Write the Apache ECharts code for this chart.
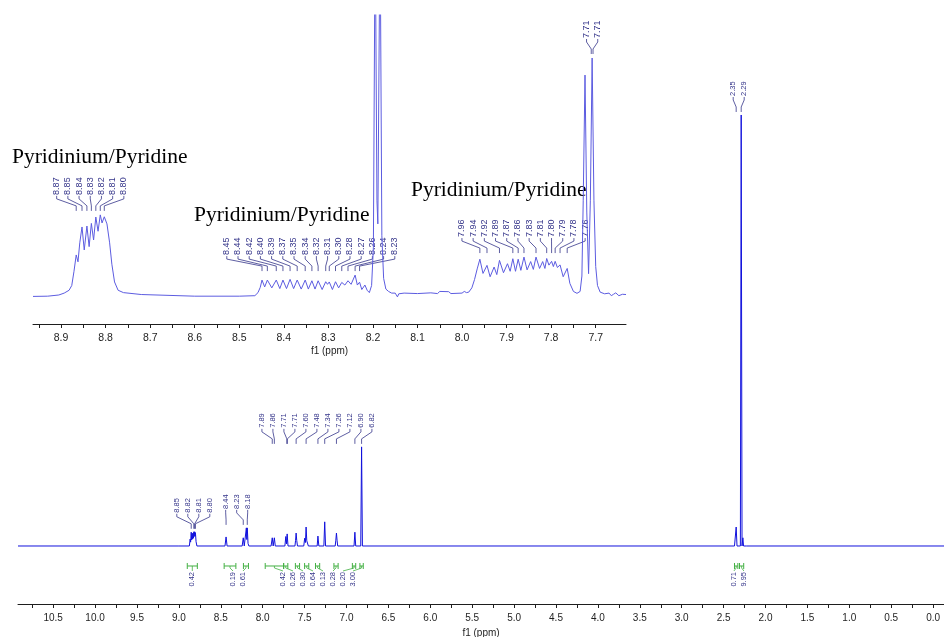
<!DOCTYPE html>
<html>
<head>
<meta charset="utf-8">
<script src="https://cdn.jsdelivr.net/npm/echarts@6/dist/echarts.min.js"></script>
<style>
  html, body { margin: 0; padding: 0; background: #fff; }
  #chart { width: 944px; height: 637px; }
</style>
</head>
<body>
<div id="chart"></div>
<script>
// ---------------- spectrum data (ppm, relative intensity) ----------------
// Full 1H spectrum, tallest line (2.29 ppm) = 100
const mainSpectrum = [
  [10.92, 0], [9.0, 0],
  [8.875, 0], [8.866, 1.6], [8.860, 0.9], [8.853, 3.2], [8.848, 1.4], [8.842, 2.9], [8.837, 1.6],
  [8.832, 3.0], [8.827, 1.8], [8.822, 3.3], [8.817, 2.2], [8.812, 3.3], [8.807, 2.3], [8.803, 3.1],
  [8.795, 1.0], [8.785, 0],
  [8.450, 0], [8.437, 2.1], [8.425, 0],
  [8.245, 0], [8.232, 1.9], [8.220, 0],
  [8.205, 0], [8.195, 4.2], [8.190, 1.5], [8.184, 4.2], [8.175, 0.6], [8.165, 0],
  [7.900, 0], [7.886, 1.9], [7.875, 0], [7.861, 1.9], [7.850, 0],
  [7.735, 0], [7.724, 2.2], [7.716, 0.5], [7.708, 2.8], [7.698, 0],
  [7.615, 0], [7.608, 1.3], [7.601, 3.0], [7.594, 1.3], [7.585, 0],
  [7.510, 0], [7.499, 1.8], [7.490, 0.8], [7.482, 4.4], [7.474, 1.2], [7.465, 1.6], [7.455, 0],
  [7.350, 0], [7.341, 2.3], [7.330, 0],
  [7.270, 0], [7.260, 5.6], [7.250, 0],
  [7.135, 0], [7.128, 1.2], [7.120, 3.0], [7.112, 1.2], [7.105, 0],
  [6.910, 0], [6.900, 3.2], [6.890, 0],
  [6.830, 0], [6.820, 23.0], [6.810, 0],
  [2.400, 0], [2.385, 0.3], [2.370, 0],
  [2.360, 0], [2.350, 4.4], [2.340, 0], [2.325, 0.3],
  [2.300, 0], [2.290, 100], [2.280, 0], [2.270, 1.9], [2.262, 0], [2.240, 0.3], [2.230, 0],
  [-0.13, 0]
];

// Expanded aromatic region 8.96 - 7.63 ppm, line at 7.71 ppm = 100
const insetSpectrum = [
  [8.963, -0.6], [8.930, -0.5], [8.905, 0], [8.893, 0.8], [8.882, 2.0], [8.876, 4.0], [8.871, 10.0],
  [8.866, 16.9], [8.862, 14.0], [8.858, 22.0], [8.853, 28.7], [8.848, 19.0], [8.842, 29.1], [8.837, 20.4],
  [8.832, 30.2], [8.827, 23.2], [8.822, 32.9], [8.817, 26.9], [8.812, 33.8], [8.808, 30.4], [8.803, 33.0],
  [8.797, 30.0], [8.791, 22.0], [8.786, 13.0], [8.780, 5.5], [8.772, 2.0], [8.760, 1.0], [8.720, 0.2],
  [8.600, -0.5], [8.500, -0.5], [8.465, -0.3],
  [8.458, 1.0], [8.453, 3.2], [8.449, 6.3], [8.443, 3.4], [8.437, 6.3], [8.427, 3.0], [8.417, 6.3],
  [8.409, 2.7], [8.402, 6.3], [8.394, 2.7], [8.386, 6.6], [8.378, 2.7], [8.370, 6.3], [8.361, 2.5],
  [8.352, 6.3], [8.345, 2.5], [8.337, 6.0], [8.330, 2.5], [8.323, 6.0], [8.314, 2.3], [8.306, 5.6],
  [8.302, 4.5], [8.298, 5.5], [8.291, 2.3], [8.284, 5.6], [8.277, 3.0], [8.270, 5.3], [8.263, 4.2],
  [8.256, 6.0], [8.249, 4.5], [8.240, 8.4], [8.235, 4.2], [8.230, 5.4], [8.225, 2.3], [8.218, 4.2],
  [8.213, 2.0], [8.208, 1.0], [8.203, 4.0], [8.199, 20], [8.195, 160], [8.191, 40], [8.189, 30],
  [8.184, 160], [8.180, 25], [8.176, 7], [8.171, 2.5], [8.165, 1.5], [8.158, 0.8], [8.150, 0.8],
  [8.145, -0.8], [8.142, 0.5], [8.130, 0.8], [8.100, 0.6], [8.070, 0.9], [8.055, 0.6], [8.050, 1.5],
  [8.030, 1.4], [8.025, 0.6], [8.000, 0.8], [7.995, 1.5], [7.990, 1.0], [7.985, 1.2],
  [7.978, 3.0], [7.972, 6.5], [7.966, 11.0], [7.960, 15.1], [7.953, 9.1], [7.944, 12.5], [7.937, 7.7],
  [7.928, 11.8], [7.922, 8.6], [7.916, 14.6], [7.907, 9.4], [7.898, 13.2], [7.892, 10.0], [7.886, 15.3],
  [7.880, 10.0], [7.874, 15.1], [7.868, 10.4], [7.861, 16.0], [7.854, 10.6], [7.846, 14.1], [7.840, 10.8],
  [7.834, 16.0], [7.826, 11.2], [7.819, 14.1], [7.814, 11.2], [7.810, 15.4], [7.805, 12.6], [7.799, 14.2],
  [7.795, 12.0], [7.791, 14.2], [7.786, 11.6], [7.780, 12.7], [7.773, 7.7], [7.764, 11.2], [7.758, 4.9],
  [7.750, 1.5], [7.742, 0.7], [7.735, 1.5], [7.731, 8], [7.728, 40], [7.724, 92.8], [7.720, 35],
  [7.716, 9], [7.712, 40], [7.708, 100], [7.704, 40], [7.700, 12], [7.696, 4], [7.690, 1.2],
  [7.680, 0.5], [7.670, 0.8], [7.665, -0.3], [7.660, 0.3], [7.655, 0.9], [7.648, -0.3], [7.640, 0.3],
  [7.632, 0.2]
];

// ---------------- peak picks (ppm), one array per multiplet ----------------
const mainPeaksA = [8.853, 8.822, 8.812, 8.803];
const mainPeaksB = [8.437, 8.232, 8.184];
const mainPeaksC = [7.886, 7.861, 7.712, 7.706, 7.601, 7.482, 7.341, 7.260, 7.120, 6.900, 6.820];
const mainPeaksD = [2.350, 2.290];

const insetPeaksA = [8.866, 8.853, 8.842, 8.832, 8.822, 8.812, 8.803];
const insetPeaksB = [8.449, 8.437, 8.417, 8.402, 8.386, 8.370, 8.352, 8.337, 8.323, 8.306, 8.298,
                     8.284, 8.270, 8.256, 8.240, 8.230];
const insetPeaksC = [7.960, 7.944, 7.916, 7.886, 7.874, 7.861, 7.834, 7.810, 7.799, 7.791, 7.780, 7.764];
const insetPeaksD = [7.710, 7.706];

// ---------------- integrals [from ppm, to ppm, value] ----------------
const integralsA = [[8.90, 8.78, 0.42]];
const integralsB = [[8.46, 8.32, 0.19], [8.23, 8.17, 0.61]];
const integralsC = [[7.97, 7.75, 0.42], [7.75, 7.70, 0.26], [7.61, 7.56, 0.30], [7.50, 7.45, 0.64],
                    [7.37, 7.32, 0.13], [7.15, 7.10, 0.28], [6.93, 6.89, 0.20], [6.84, 6.80, 3.00]];
const integralsD = [[2.37, 2.33, 0.71], [2.31, 2.26, 9.95]];

// ---------------- axis tick labels ----------------
const mainTickLabels = [10.5, 10.0, 9.5, 9.0, 8.5, 8.0, 7.5, 7.0, 6.5, 6.0, 5.5, 5.0, 4.5, 4.0,
                        3.5, 3.0, 2.5, 2.0, 1.5, 1.0, 0.5, 0.0];
const insetTickLabels = [8.9, 8.8, 8.7, 8.6, 8.5, 8.4, 8.3, 8.2, 8.1, 8.0, 7.9, 7.8, 7.7];

const annotationText = 'Pyridinium/Pyridine';

// ---------------- helpers ----------------
const LABEL_COLOR = '#35358a';
const INTEGRAL_COLOR = '#43b043';
const AXIS_COLOR = '#1e1e1e';

// ticks halfway between labelled ones, plus one beyond the first label
function withMinorTicks(labels) {
  const step = labels[0] - labels[1];
  const out = [labels[0] + step / 2];
  labels.forEach((v, i) => {
    out.push(v);
    if (i < labels.length - 1) out.push((v + labels[i + 1]) / 2);
  });
  return out;
}

function peakTop(spec, ppm) {
  let best = 0;
  spec.forEach(p => { if (Math.abs(p[0] - ppm) < 0.0035 && p[1] > best) best = p[1]; });
  return best;
}

// evenly spread slots centred over the span of the targets
function slots(targets, spacing) {
  const n = targets.length;
  if (n === 1) return [targets[0]];
  const mid = (Math.min(...targets) + Math.max(...targets)) / 2;
  return targets.map((t, i) => mid + (i - (n - 1) / 2) * spacing);
}

function peakLabelShapes(api, spec, groups, o) {
  const kids = [];
  groups.forEach(g => {
    const tx = g.map(p => api.coord([p, 0])[0]);
    const tops = g.map(p => api.coord([p, peakTop(spec, p)])[1]);
    const yEnd = Math.min(...tops) - o.gap;
    const lx = slots(tx, o.spacing);
    g.forEach((p, i) => {
      kids.push({
        type: 'polyline',
        shape: { points: [[lx[i], yEnd - 15], [lx[i], yEnd - 12], [tx[i], yEnd - 5], [tx[i], yEnd]] },
        style: { stroke: LABEL_COLOR, lineWidth: 0.8, fill: null }
      });
      kids.push({
        type: 'text', x: lx[i], y: yEnd - 16, rotation: Math.PI / 2,
        style: { text: p.toFixed(2), fill: LABEL_COLOR, font: o.font, align: 'left', verticalAlign: 'middle' }
      });
    });
  });
  return kids;
}

function integralShapes(api, groups, o) {
  const kids = [];
  groups.forEach(g => {
    const yb = api.coord([g[0][0], 0])[1] + o.drop;
    const cx = g.map(r => {
      const a = api.coord([r[0], 0])[0], b = api.coord([r[1], 0])[0];
      kids.push({ type: 'line', shape: { x1: a, y1: yb, x2: b, y2: yb }, style: { stroke: INTEGRAL_COLOR, lineWidth: 1 } });
      kids.push({ type: 'line', shape: { x1: a, y1: yb - 3, x2: a, y2: yb + 3 }, style: { stroke: INTEGRAL_COLOR, lineWidth: 1 } });
      kids.push({ type: 'line', shape: { x1: b, y1: yb - 3, x2: b, y2: yb + 3 }, style: { stroke: INTEGRAL_COLOR, lineWidth: 1 } });
      return (a + b) / 2;
    });
    const lx = slots(cx, o.spacing);
    g.forEach((r, i) => {
      kids.push({
        type: 'polyline',
        shape: { points: [[cx[i], yb], [cx[i], yb + 2], [lx[i], yb + 5]] },
        style: { stroke: INTEGRAL_COLOR, lineWidth: 0.8, fill: null }
      });
      kids.push({
        type: 'text', x: lx[i], y: yb + 6, rotation: Math.PI / 2,
        style: { text: r[2].toFixed(2), fill: LABEL_COLOR, font: o.font, align: 'right', verticalAlign: 'middle' }
      });
    });
  });
  return kids;
}

function axisCommon(min, max, labels, fontSize, nameGap) {
  return {
    type: 'value', min: min, max: max, inverse: true,
    axisLine: { onZero: false, lineStyle: { color: AXIS_COLOR, width: 1 } },
    axisTick: { customValues: withMinorTicks(labels), length: 4, inside: false, lineStyle: { color: AXIS_COLOR } },
    axisLabel: {
      customValues: labels, formatter: v => v.toFixed(1), margin: 9,
      fontSize: fontSize, color: AXIS_COLOR, fontFamily: 'Liberation Sans'
    },
    splitLine: { show: false },
    name: 'f1 (ppm)', nameLocation: 'middle', nameGap: nameGap,
    nameTextStyle: { fontSize: 10, color: AXIS_COLOR, fontFamily: 'Liberation Sans' }
  };
}

const chart = echarts.init(document.getElementById('chart'));
chart.setOption({
  animation: false,
  backgroundColor: '#fff',
  grid: [
    { left: 18, right: 0, top: 100, bottom: 33, outerBoundsMode: 'none', containLabel: false },
    { left: 33, right: 318, top: 15, bottom: 313, outerBoundsMode: 'none', containLabel: false }
  ],
  xAxis: [
    Object.assign({ gridIndex: 0 }, axisCommon(-0.13, 10.92, mainTickLabels, 10, 20)),
    Object.assign({ gridIndex: 1 }, axisCommon(7.632, 8.963, insetTickLabels, 10.5, 22))
  ],
  yAxis: [
    { gridIndex: 0, type: 'value', min: -13.46, max: 103.48, show: false },
    { gridIndex: 1, type: 'value', min: -12.24, max: 118.14, show: false }
  ],
  graphic: [
    { type: 'text', left: 12, top: 146, style: { text: annotationText, font: '21.5px "Liberation Serif"', fill: '#000' } },
    { type: 'text', left: 194, top: 204, style: { text: annotationText, font: '21.5px "Liberation Serif"', fill: '#000' } },
    { type: 'text', left: 411, top: 179, style: { text: annotationText, font: '21.5px "Liberation Serif"', fill: '#000' } }
  ],
  series: [
    {
      type: 'line', xAxisIndex: 0, yAxisIndex: 0, data: mainSpectrum,
      showSymbol: false, silent: true, clip: true,
      lineStyle: { color: '#1212dc', width: 1 }
    },
    {
      type: 'line', xAxisIndex: 1, yAxisIndex: 1, data: insetSpectrum,
      showSymbol: false, silent: true, clip: true,
      lineStyle: { color: '#5c5ce0', width: 1 }
    },
    {
      type: 'custom', xAxisIndex: 0, yAxisIndex: 0, data: [[5, 0]], clip: false, silent: true,
      renderItem: (params, api) => ({
        type: 'group',
        children: peakLabelShapes(api, mainSpectrum, [mainPeaksA, mainPeaksB, mainPeaksC, mainPeaksD],
                                  { gap: 3, spacing: 11, font: '7.5px "Liberation Sans"' })
          .concat(integralShapes(api, [integralsA, integralsB, integralsC, integralsD],
                                 { drop: 20, spacing: 10, font: '7.5px "Liberation Sans"' }))
      })
    },
    {
      type: 'custom', xAxisIndex: 1, yAxisIndex: 1, data: [[8.3, 0]], clip: false, silent: true,
      renderItem: (params, api) => ({
        type: 'group',
        children: peakLabelShapes(api, insetSpectrum, [insetPeaksA, insetPeaksB, insetPeaksC, insetPeaksD],
                                  { gap: 4, spacing: 11.2, font: '9px "Liberation Sans"' })
      })
    }
  ]
});
</script>
</body>
</html>
